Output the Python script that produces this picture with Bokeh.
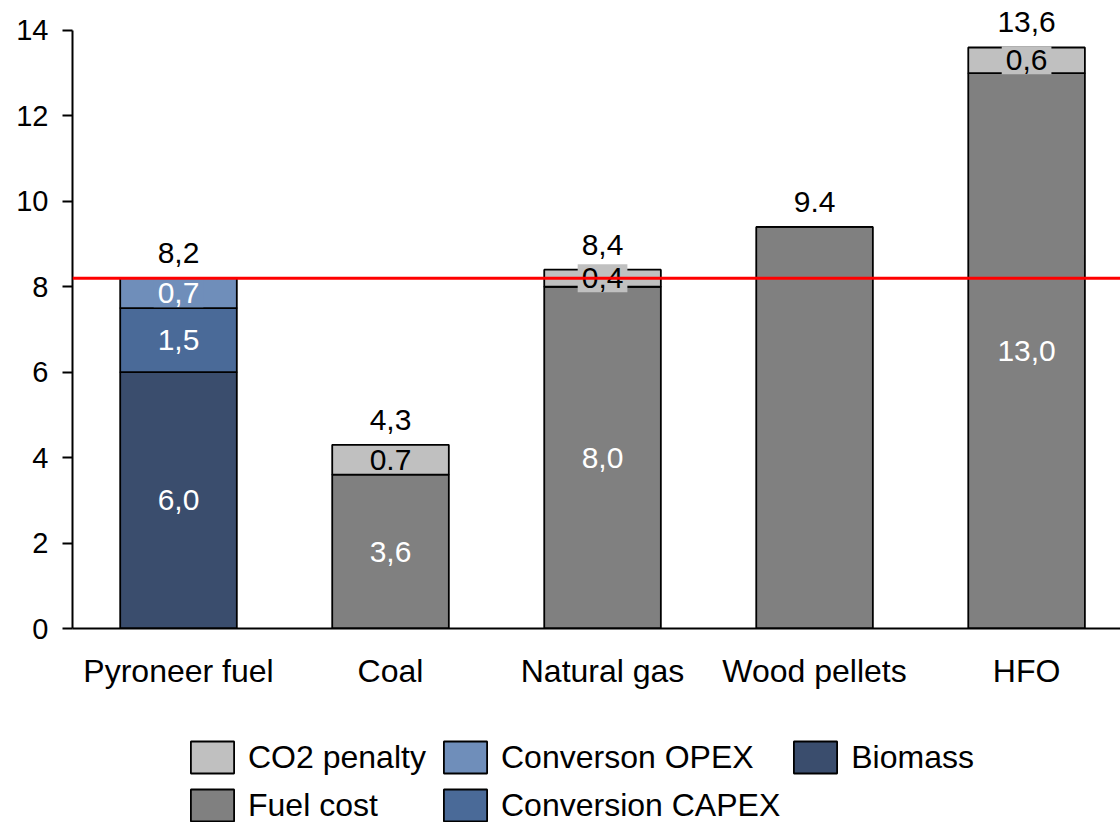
from bokeh.plotting import figure
from bokeh.layouts import column
from bokeh.models import (ColumnDataSource, Range1d, FixedTicker, LabelSet, Label,
                          Legend, LegendItem, Span)
from bokeh.core.properties import value
from bokeh.embed import file_html
from bokeh.resources import INLINE

# Cost build-up per fuel (stacked bottom to top)
categories = ["Pyroneer fuel", "Coal", "Natural gas", "Wood pellets", "HFO"]
biomass = [6.0, 0.0, 0.0, 0.0, 0.0]
conversion_capex = [1.5, 0.0, 0.0, 0.0, 0.0]
conversion_opex = [0.7, 0.0, 0.0, 0.0, 0.0]
fuel_cost = [0.0, 3.6, 8.0, 9.4, 13.0]
co2_penalty = [0.0, 0.7, 0.4, 0.0, 0.6]

series_names = ["Biomass", "Conversion CAPEX", "Converson OPEX", "Fuel cost", "CO2 penalty"]
series_colors = ["#3a4d6d", "#4a6a98", "#6f8eba", "#808080", "#c0c0c0"]

# Texts printed on the segments and above each bar
biomass_labels = ["6,0", "", "", "", ""]
capex_labels = ["1,5", "", "", "", ""]
opex_labels = ["0,7", "", "", "", ""]
fuel_labels = ["", "3,6", "8,0", "", "13,0"]
co2_labels = ["", "0.7", "0,4", "", "0,6"]
total_labels = ["8,2", "4,3", "8,4", "9.4", "13,6"]

reference_level = 8.2

FONT = "Liberation Sans"
FS_DATA = "30px"
FS_X = "32px"
FS_Y = "29px"
FS_LEGEND = "32px"

x = [i + 0.5 for i in range(len(categories))]
stacks = [biomass, conversion_capex, conversion_opex, fuel_cost, co2_penalty]
keys = ["biomass", "capex", "opex", "fuel", "co2"]

data = {"x": x}
for k, s in zip(keys, stacks):
    data[k] = s
source = ColumnDataSource(data)

p = figure(width=1120, height=700,
           x_range=Range1d(0, 4.943), y_range=Range1d(0, 14.70),
           output_backend="svg", toolbar_location=None,
           min_border_left=72, min_border_right=0,
           min_border_top=0, min_border_bottom=72)

renderers = p.vbar_stack(keys, x="x", width=0.55, color=series_colors,
                         line_color="black", line_width=1.8, source=source)

# Segment labels; small segments get a filled box behind the text
plain = {"x": [], "y": [], "text": [], "color": []}
boxed = []
label_sets = [biomass_labels, capex_labels, opex_labels, fuel_labels, co2_labels]
text_colors = ["white", "white", "white", "white", "black"]
boxed_series = {2, 4}
for i in range(len(categories)):
    base = 0.0
    for j, (vals, labs) in enumerate(zip(stacks, label_sets)):
        v = vals[i]
        if labs[i]:
            mid = base + v / 2
            if j in boxed_series and categories[i] != "Coal":
                boxed.append((x[i], mid, labs[i], text_colors[j], series_colors[j]))
            else:
                plain["x"].append(x[i])
                plain["y"].append(mid)
                plain["text"].append(labs[i])
                plain["color"].append(text_colors[j])
        base += v

p.add_layout(LabelSet(x="x", y="y", text="text", source=ColumnDataSource(plain),
                      text_color="color", text_font=value(FONT),
                      text_font_size=FS_DATA,
                      text_align="center", text_baseline="middle"))
for bx, by, bt, tc, bg in boxed:
    p.add_layout(Label(x=bx, y=by, text=bt, text_color=tc, text_font=FONT,
                       text_font_size=FS_DATA, text_align="center",
                       text_baseline="middle", background_fill_color=bg,
                       padding=4))

totals = [sum(s[i] for s in stacks) for i in range(len(categories))]
p.add_layout(LabelSet(x="x", y="y", text="text",
                      source=ColumnDataSource({"x": x, "y": totals, "text": total_labels}),
                      text_color="black", text_font=value(FONT),
                      text_font_size=FS_DATA,
                      text_align="center", text_baseline="middle", y_offset=25))

p.add_layout(Span(location=reference_level, dimension="width",
                  line_color="#ff0000", line_width=3))

# Axes
p.xgrid.visible = False
p.ygrid.visible = False
p.outline_line_color = None

p.xaxis.ticker = FixedTicker(ticks=x)
p.xaxis.major_label_overrides = {xx: c for xx, c in zip(x, categories)}
p.xaxis.major_tick_out = 0
p.xaxis.major_tick_in = 0
p.xaxis.major_label_standoff = 24
p.xaxis.major_label_text_font_size = FS_X

p.yaxis.ticker = FixedTicker(ticks=list(range(0, 15, 2)))
p.yaxis.bounds = (0, 14)
p.yaxis.major_tick_out = 10
p.yaxis.major_tick_in = 0
p.yaxis.major_label_standoff = 14
p.yaxis.major_label_text_font_size = FS_Y

for ax in (p.xaxis[0], p.yaxis[0]):
    ax.axis_line_color = "black"
    ax.axis_line_width = 2
    ax.major_tick_line_color = "black"
    ax.major_tick_line_width = 2
    ax.minor_tick_line_color = None
    ax.major_label_text_font = FONT
    ax.major_label_text_color = "black"

# Legend strip underneath, filled column by column.
# Swatch renderers carry no drawable bar (NaN height); only their legend glyphs show.
lf = figure(width=1120, height=122, output_backend="svg", toolbar_location=None,
            x_range=Range1d(0, 1), y_range=Range1d(0, 1),
            min_border_left=0, min_border_right=0, min_border_top=0,
            min_border_bottom=0)
lf.axis.visible = False
lf.grid.visible = False
lf.outline_line_color = None
nan = float("nan")
swatches = [lf.vbar(x=[nan], bottom=[nan], top=[nan], width=1, fill_color=c,
                    line_color="black", line_width=1.8) for c in series_colors]

order = [4, 3, 2, 1, 0]
items = [LegendItem(label=series_names[k], renderers=[swatches[k]]) for k in order]
legend = Legend(items=items, orientation="vertical", nrows=2,
                location=(113, -3), border_line_color=None,
                background_fill_alpha=0, glyph_width=54, glyph_height=40,
                label_text_font=FONT, label_text_font_size=FS_LEGEND,
                label_text_color="black", label_width=182,
                label_standoff=9, label_height=40, spacing=8,
                padding=0, margin=0)
lf.add_layout(legend)

layout = column(p, lf, spacing=0)
open("out.html", "w").write(file_html(layout, INLINE))
